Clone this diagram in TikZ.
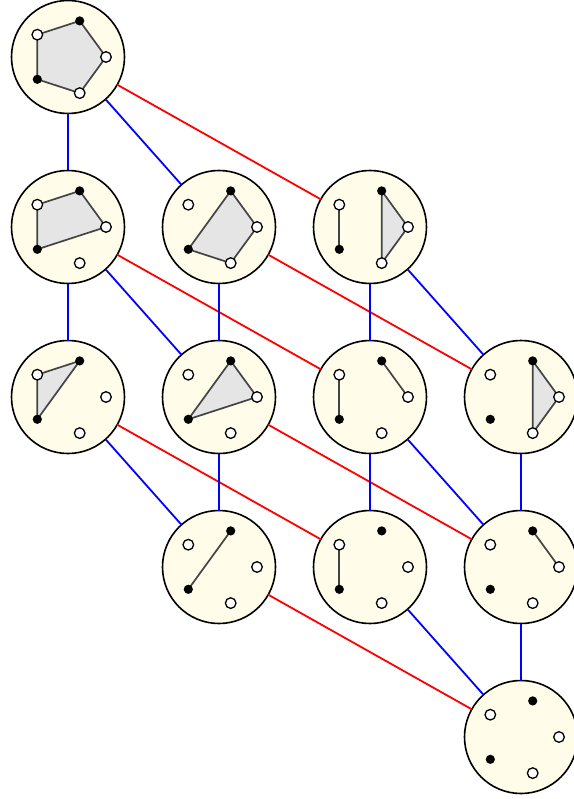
\documentclass[tikz,border=0pt]{standalone}
\definecolor{cream}{HTML}{FFFCE9}
\definecolor{polyfill}{HTML}{E5E5E5}
\definecolor{polyedge}{HTML}{444444}
\tikzset{
  state/.style={circle, draw=black, fill=cream, line width=1.6pt, minimum size=113pt, inner sep=0pt, outer sep=0pt},
  blueline/.style={draw=blue, line width=1.8pt},
  redline/.style={draw=red, line width=1.8pt},
  poly/.style={fill=polyfill, draw=polyedge, line width=1.7pt, line join=round},
  seg/.style={draw=polyedge, line width=1.7pt},
  fdot/.style={fill=black},
  odot/.style={fill=white, draw=black, line width=1.3pt},
}
\begin{document}
\begin{tikzpicture}[x=1pt,y=-1pt]
\useasboundingbox (0,0) rectangle (573,799);
% states
\node[state] (n0)  at (68,57) {};
\node[state] (n1a) at (68,227) {};
\node[state] (n1b) at (219,227) {};
\node[state] (n1c) at (370,227) {};
\node[state] (n2a) at (68,397) {};
\node[state] (n2b) at (219,397) {};
\node[state] (n2c) at (370,397) {};
\node[state] (n2d) at (521,397) {};
\node[state] (n3b) at (219,567) {};
\node[state] (n3c) at (370,567) {};
\node[state] (n3d) at (521,567) {};
\node[state] (n4d) at (521,737) {};
% pentagon vertices
\foreach \n in {n0,n1a,n1b,n1c,n2a,n2b,n2c,n2d,n3b,n3c,n3d,n4d}{
  \coordinate (\n-0) at ([shift={(38,0)}]\n.center);
  \coordinate (\n-1) at ([shift={(11.7,-36.1)}]\n.center);
  \coordinate (\n-2) at ([shift={(-30.7,-22.3)}]\n.center);
  \coordinate (\n-3) at ([shift={(-30.7,22.3)}]\n.center);
  \coordinate (\n-4) at ([shift={(11.7,36.1)}]\n.center);
}
% connectors
\draw[blueline] (n0) -- (n1a);
\draw[blueline] (n0) -- (n1b);
\draw[redline]  (n0) -- (n1c);
\draw[blueline] (n1a) -- (n2a);
\draw[blueline] (n1a) -- (n2b);
\draw[redline]  (n1a) -- (n2c);
\draw[blueline] (n1b) -- (n2b);
\draw[redline]  (n1b) -- (n2d);
\draw[blueline] (n1c) -- (n2c);
\draw[blueline] (n1c) -- (n2d);
\draw[blueline] (n2a) -- (n3b);
\draw[redline]  (n2a) -- (n3c);
\draw[blueline] (n2b) -- (n3b);
\draw[redline]  (n2b) -- (n3d);
\draw[blueline] (n2c) -- (n3c);
\draw[blueline] (n2c) -- (n3d);
\draw[blueline] (n2d) -- (n3d);
\draw[redline]  (n3b) -- (n4d);
\draw[blueline] (n3c) -- (n4d);
\draw[blueline] (n3d) -- (n4d);
% polygons
\filldraw[poly] (n0-0) -- (n0-1) -- (n0-2) -- (n0-3) -- (n0-4) -- cycle;
\filldraw[poly] (n1a-0) -- (n1a-1) -- (n1a-2) -- (n1a-3) -- cycle;
\filldraw[poly] (n1b-0) -- (n1b-1) -- (n1b-3) -- (n1b-4) -- cycle;
\filldraw[poly] (n1c-0) -- (n1c-1) -- (n1c-4) -- cycle;
\draw[seg] (n1c-2) -- (n1c-3);
\filldraw[poly] (n2a-1) -- (n2a-2) -- (n2a-3) -- cycle;
\filldraw[poly] (n2b-0) -- (n2b-1) -- (n2b-3) -- cycle;
\draw[seg] (n2c-2) -- (n2c-3);
\draw[seg] (n2c-1) -- (n2c-0);
\filldraw[poly] (n2d-0) -- (n2d-1) -- (n2d-4) -- cycle;
\draw[seg] (n3b-1) -- (n3b-3);
\draw[seg] (n3c-2) -- (n3c-3);
\draw[seg] (n3d-1) -- (n3d-0);
% vertex dots
\foreach \n in {n0,n1a,n1b,n1c,n2a,n2b,n2c,n2d,n3b,n3c,n3d,n4d}{
  \fill[fdot] (\n-1) circle (4.6);
  \fill[fdot] (\n-3) circle (4.6);
  \filldraw[odot] (\n-0) circle (5.3);
  \filldraw[odot] (\n-2) circle (5.3);
  \filldraw[odot] (\n-4) circle (5.3);
}
\end{tikzpicture}
\end{document}
